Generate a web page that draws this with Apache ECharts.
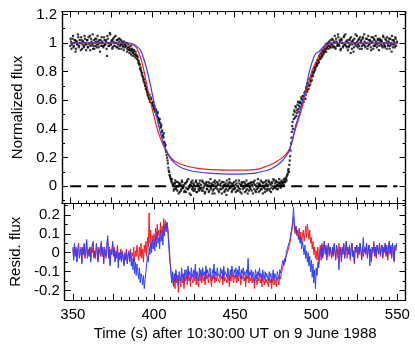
<!DOCTYPE html>
<html>
<head>
<meta charset="utf-8">
<script src="https://cdn.jsdelivr.net/npm/echarts@6/dist/echarts.min.js"></script>
<style>html,body{margin:0;padding:0;background:#fff}#main{width:415px;height:345px}</style>
</head>
<body>
<div id="main"></div>
<script>
// sampling of the photometry: first time and step (s)
var t0 = 350, dt = 0.5;

// normalized flux, one value per 0.5 s from 350 s
var flux = [
  0.98,1.01,0.99,1.03,0.97,1.00,1.02,0.96,1.01,0.99,1.04,0.98,1.00,0.95,1.02,0.99,1.01,0.97,1.03,1.00,
  0.99,1.02,0.97,1.00,1.05,0.98,1.01,0.99,0.96,1.02,1.00,0.98,1.03,0.99,1.01,0.97,1.00,1.02,0.98,1.01,
  1.00,0.98,1.02,0.99,1.01,0.91,1.03,0.98,1.00,1.06,0.99,1.02,0.97,1.01,1.04,0.98,1.00,1.02,0.97,1.03,
  1.01,0.98,1.02,0.99,1.00,0.97,1.01,0.99,0.98,1.00,0.96,0.99,0.97,0.95,0.98,0.94,0.96,0.93,0.95,0.92,
  0.94,0.91,0.91,0.88,0.87,0.85,0.83,0.80,0.79,0.76,0.75,0.72,0.71,0.69,0.66,0.65,0.62,0.64,0.60,0.61,
  0.58,0.57,0.54,0.56,0.52,0.53,0.49,0.51,0.47,0.45,0.44,0.41,0.38,0.36,0.34,0.31,0.28,0.25,0.22,0.18,
  0.13,0.10,0.07,0.05,0.03,0.02,0.01,-0.02,0.02,-0.01,0.03,-0.03,0.00,0.02,-0.04,0.01,-0.02,0.03,-0.01,0.00,
  -0.03,0.02,-0.01,0.04,-0.02,0.00,-0.05,0.01,0.03,-0.02,-0.01,0.02,-0.03,0.00,0.04,-0.04,0.01,-0.02,0.02,-0.01,
  0.01,-0.03,0.03,-0.01,0.00,-0.04,0.02,-0.02,0.01,0.03,-0.03,0.00,-0.01,0.02,-0.05,0.01,-0.02,0.04,-0.01,0.00,
  -0.02,0.02,-0.04,0.01,0.00,-0.02,0.03,-0.01,0.01,-0.03,0.02,-0.06,0.00,0.01,-0.02,0.03,-0.01,0.00,-0.03,0.02,
  0.00,-0.02,0.01,0.04,-0.03,0.00,-0.01,0.02,-0.04,0.01,0.03,-0.02,0.00,-0.01,0.02,-0.03,0.01,-0.05,0.02,0.00,
  -0.01,0.02,-0.03,0.00,0.03,-0.02,0.01,-0.04,0.00,0.02,-0.01,0.01,-0.03,0.04,-0.02,0.00,0.02,-0.01,-0.04,0.01,
  0.02,-0.02,0.00,0.03,-0.03,0.01,-0.01,0.02,-0.02,0.04,0.00,-0.01,0.03,0.01,-0.02,0.02,0.00,0.03,0.01,0.02,
  0.03,0.01,0.04,0.03,0.05,0.07,0.09,0.12,0.15,0.21,0.30,0.38,0.45,0.50,0.53,0.48,0.55,0.51,0.57,0.54,
  0.56,0.59,0.58,0.61,0.60,0.63,0.62,0.66,0.64,0.68,0.67,0.71,0.70,0.74,0.73,0.76,0.78,0.77,0.80,0.82,
  0.83,0.86,0.85,0.88,0.87,0.90,0.89,0.92,0.91,0.94,0.93,0.95,0.96,0.94,0.97,0.99,0.96,0.98,1.00,0.97,
  0.99,1.02,0.98,1.01,0.97,1.03,1.00,0.99,1.04,0.98,1.01,0.96,1.02,1.00,0.98,1.05,0.99,1.01,0.97,1.02,
  1.00,0.98,1.03,0.93,1.01,0.99,1.02,0.97,1.00,1.06,0.98,1.01,0.99,1.03,0.96,1.00,1.02,0.98,1.04,0.99,
  1.01,0.97,1.00,1.03,0.98,1.02,0.99,1.01,0.95,1.00,1.04,0.98,1.02,0.99,1.01,0.97,1.03,1.00,0.98,1.02,
  0.99,1.01,0.97,1.04,1.00,0.98,1.02,0.96,1.01,0.99,1.03,0.98,1.00,0.94,1.02,0.99,1.01,0.97,1.03,1.00
];
// the interleaved readings, one per 0.5 s from 350.25 s
var fluxB = [
  1.03,0.96,1.00,1.05,0.98,1.02,0.94,1.01,0.99,1.06,0.97,1.02,1.00,1.04,0.96,1.01,0.98,1.05,0.99,0.95,
  1.02,0.97,1.04,0.99,0.95,1.03,1.00,1.06,0.98,0.96,1.03,1.01,0.97,1.05,0.99,1.02,0.94,1.00,1.04,0.98,
  0.97,1.04,0.99,1.02,0.96,1.05,1.00,0.98,1.07,0.99,1.01,0.96,1.03,0.98,1.00,1.05,0.97,1.02,0.99,0.96,
  1.03,0.99,0.96,1.01,0.98,0.95,0.99,0.97,1.00,0.94,0.97,0.95,0.93,0.96,0.92,0.95,0.91,0.94,0.92,0.90,
  0.92,0.89,0.90,0.86,0.85,0.82,0.81,0.78,0.77,0.74,0.73,0.70,0.68,0.67,0.64,0.63,0.61,0.59,0.62,0.58,
  0.56,0.59,0.55,0.53,0.54,0.50,0.52,0.48,0.46,0.47,0.42,0.43,0.39,0.35,0.37,0.30,0.29,0.24,0.20,0.16,
  0.11,0.08,0.06,0.04,0.05,0.01,-0.03,0.02,0.04,-0.02,0.00,0.03,-0.05,0.01,0.02,-0.03,0.04,-0.01,0.01,-0.04,
  0.02,-0.04,0.03,-0.02,0.05,-0.01,0.01,-0.06,0.02,0.04,-0.03,0.01,-0.02,0.03,-0.04,0.02,0.00,-0.03,0.04,-0.02,
  -0.01,0.04,-0.03,0.02,-0.05,0.01,0.03,-0.02,0.00,-0.04,0.02,0.05,-0.02,0.01,-0.03,0.03,-0.05,0.02,0.00,0.03,
  0.01,-0.03,0.04,-0.02,0.02,-0.05,0.00,0.03,-0.04,0.01,-0.02,0.04,-0.03,0.02,0.05,-0.01,0.02,-0.04,0.01,-0.02,
  0.03,-0.01,-0.04,0.02,0.00,-0.03,0.04,-0.02,0.01,-0.05,0.02,0.00,0.03,-0.04,0.01,0.04,-0.02,0.01,-0.03,0.02,
  -0.02,0.03,0.01,-0.05,0.02,0.04,-0.03,0.00,-0.02,0.05,-0.04,0.02,0.01,-0.02,0.03,-0.05,0.00,0.03,-0.02,0.04,
  -0.03,0.01,0.04,-0.02,0.02,-0.04,0.03,0.00,0.05,-0.01,0.02,0.04,-0.02,0.03,0.01,0.05,0.02,-0.01,0.04,0.03,
  0.02,0.05,0.03,0.06,0.04,0.08,0.11,0.10,0.18,0.25,0.34,0.42,0.40,0.47,0.52,0.56,0.49,0.53,0.59,0.52,
  0.58,0.55,0.62,0.57,0.63,0.59,0.65,0.61,0.69,0.66,0.72,0.68,0.75,0.71,0.77,0.74,0.80,0.79,0.83,0.81,
  0.85,0.84,0.88,0.86,0.91,0.89,0.93,0.90,0.95,0.92,0.97,0.94,0.99,0.96,1.00,0.98,1.01,0.97,1.02,0.99,
  1.03,0.97,1.00,1.05,0.96,1.01,0.98,1.06,0.99,1.02,0.95,1.03,1.00,0.97,1.04,0.99,1.06,0.98,1.01,0.95,
  0.97,1.02,0.99,1.04,0.96,1.01,0.94,1.03,0.99,1.00,1.05,0.97,1.02,0.98,1.04,1.01,0.96,1.03,0.99,1.06,
  0.98,1.03,1.00,0.96,1.05,0.99,1.02,0.97,1.04,1.01,0.96,1.03,0.98,1.05,1.00,0.99,1.02,0.95,1.03,1.01,
  1.02,0.98,1.05,0.99,0.97,1.03,1.00,1.04,0.98,1.01,0.96,1.03,0.99,1.05,0.97,1.02,0.99,1.04,0.98,1.01
];

// model light curves (time, flux)
var redT = [350,380,386,390,392,394,395,397,399,401,403,405,407,409,412,415,420,428,440,455,465,470,475,479,482,484,486,488,490,492,494,496,498,500,502,504,506,508,511,550];
var redF = [1.0,1.0,0.995,0.975,0.93,0.86,0.81,0.70,0.60,0.50,0.41,0.34,0.285,0.24,0.195,0.168,0.145,0.125,0.115,0.113,0.12,0.14,0.165,0.195,0.225,0.26,0.33,0.41,0.48,0.56,0.65,0.73,0.81,0.86,0.91,0.95,0.975,0.99,1.0,1.0];
var blueT = [350,386,389,391,393,395,397,399,401,403,405,407,409,411,414,418,425,435,450,462,470,475,479,482,484,486,488,490,492,494,496,498,500,502,504,506,508,550];
var blueF = [1.0,1.0,0.99,0.975,0.95,0.89,0.81,0.71,0.60,0.48,0.38,0.30,0.245,0.20,0.16,0.13,0.105,0.092,0.085,0.09,0.11,0.135,0.17,0.21,0.25,0.33,0.43,0.50,0.59,0.68,0.79,0.87,0.925,0.94,0.965,0.99,1.0,1.0];

// residuals, one value per 0.5 s from 350 s
var residRed = [
  0.02,-0.03,0.04,-0.01,0.03,-0.04,0.01,0.05,-0.02,0.00,0.03,-0.05,0.02,-0.01,0.04,-0.03,0.01,0.06,-0.02,0.02,
  -0.01,0.03,-0.04,0.02,0.00,0.05,-0.03,0.01,-0.02,0.04,0.01,-0.04,0.03,0.00,-0.02,0.06,-0.01,0.02,-0.05,0.03,
  0.01,-0.03,0.04,0.07,-0.02,0.03,-0.06,0.02,0.00,0.05,-0.01,0.03,-0.04,0.01,-0.02,0.04,-0.05,0.00,-0.03,0.02,
  -0.04,0.01,-0.02,-0.06,0.00,-0.03,0.02,-0.05,-0.01,0.01,-0.03,0.02,-0.04,0.00,-0.02,0.03,-0.05,0.01,-0.02,0.04,
  0.00,-0.04,0.03,-0.02,0.05,-0.03,0.02,-0.05,0.04,0.00,0.06,-0.02,0.08,0.03,0.21,0.05,0.12,0.02,0.09,0.06,
  0.10,0.04,0.13,0.07,0.15,0.09,0.12,0.06,0.16,0.10,0.14,0.08,0.18,0.12,0.17,0.14,0.16,0.13,0.08,0.02,
  -0.05,-0.10,-0.14,-0.12,-0.17,-0.13,-0.19,-0.11,-0.16,-0.14,-0.21,-0.12,-0.15,-0.18,-0.11,-0.16,-0.13,-0.19,-0.12,-0.15,
  -0.12,-0.17,-0.10,-0.15,-0.13,-0.18,-0.11,-0.14,-0.16,-0.12,-0.15,-0.10,-0.17,-0.13,-0.14,-0.18,-0.11,-0.15,-0.12,-0.16,
  -0.11,-0.15,-0.13,-0.17,-0.10,-0.14,-0.12,-0.16,-0.13,-0.11,-0.15,-0.18,-0.12,-0.14,-0.10,-0.16,-0.13,-0.15,-0.11,-0.14,
  -0.13,-0.16,-0.11,-0.14,-0.12,-0.17,-0.10,-0.15,-0.13,-0.12,-0.16,-0.11,-0.14,-0.18,-0.12,-0.15,-0.10,-0.13,-0.16,-0.12,
  -0.14,-0.11,-0.16,-0.12,-0.15,-0.10,-0.13,-0.17,-0.12,-0.14,-0.11,-0.15,-0.13,-0.18,-0.12,-0.14,-0.10,-0.16,-0.13,-0.15,
  -0.12,-0.16,-0.13,-0.15,-0.19,-0.12,-0.14,-0.17,-0.13,-0.15,-0.11,-0.16,-0.14,-0.18,-0.12,-0.15,-0.17,-0.13,-0.16,-0.14,
  -0.15,-0.18,-0.13,-0.16,-0.14,-0.19,-0.15,-0.12,-0.17,-0.14,-0.16,-0.18,-0.13,-0.15,-0.17,-0.12,-0.14,-0.11,-0.09,-0.07,
  -0.08,-0.05,-0.06,-0.02,-0.03,0.01,0.00,0.04,0.06,0.09,0.12,0.15,0.19,0.13,0.10,0.14,0.09,0.12,0.08,0.13,
  0.07,0.11,0.05,0.09,0.12,0.06,0.10,0.14,0.08,0.15,0.11,0.07,0.12,0.05,0.08,0.02,0.06,-0.01,0.03,-0.03,
  0.01,-0.04,0.03,-0.06,0.00,0.04,-0.02,0.05,-0.03,0.02,0.06,-0.01,0.03,-0.04,0.01,0.05,-0.02,0.03,0.00,-0.03,
  0.02,-0.02,0.04,0.00,-0.04,0.03,0.01,-0.03,0.05,-0.01,0.02,-0.05,0.03,0.00,0.04,-0.02,0.01,0.06,-0.03,0.02,
  -0.01,0.03,-0.04,0.02,0.05,-0.02,0.01,-0.06,0.03,0.00,0.04,-0.03,0.02,-0.01,0.05,0.01,-0.04,0.03,-0.02,0.02,
  0.03,-0.01,0.05,-0.03,0.01,0.04,-0.02,0.02,-0.05,0.03,0.00,0.06,-0.02,0.02,-0.03,0.04,0.01,-0.01,0.05,-0.02,
  0.01,0.04,-0.03,0.02,0.00,0.05,-0.02,0.03,-0.04,0.02,0.06,-0.01,0.03,-0.03,0.04,0.00,-0.05,0.03,0.01,0.04
];
var residBlue = [
  0.03,-0.04,0.05,-0.02,0.02,-0.05,0.01,0.04,-0.03,0.00,0.02,-0.06,0.03,-0.01,0.05,-0.02,0.00,0.07,-0.03,0.01,
  -0.02,0.03,-0.05,0.02,0.01,0.06,-0.02,0.00,-0.03,0.05,0.01,-0.05,0.02,0.00,-0.01,0.05,-0.02,0.03,-0.06,0.02,
  0.00,-0.02,0.05,0.09,-0.03,0.02,-0.07,0.01,-0.01,0.06,-0.02,0.02,-0.05,0.00,-0.03,0.03,-0.08,0.00,-0.04,0.01,
  -0.05,0.00,-0.03,-0.07,-0.01,-0.04,0.01,-0.06,-0.02,0.00,-0.05,0.01,-0.07,-0.03,-0.09,-0.02,-0.11,-0.05,-0.12,-0.06,
  -0.10,-0.14,-0.08,-0.16,-0.11,-0.13,-0.17,-0.12,-0.19,-0.14,-0.10,-0.06,-0.02,-0.05,0.03,-0.01,0.05,0.00,0.07,0.02,
  0.06,0.01,0.09,0.03,0.11,0.05,0.08,0.02,0.12,0.06,0.10,0.04,0.14,0.09,0.15,0.11,0.16,0.12,0.05,-0.02,
  -0.06,-0.12,-0.16,-0.10,-0.18,-0.11,-0.15,-0.09,-0.14,-0.12,-0.17,-0.10,-0.13,-0.15,-0.08,-0.13,-0.11,-0.16,-0.09,-0.12,
  -0.09,-0.14,-0.07,-0.12,-0.10,-0.15,-0.08,-0.11,-0.13,-0.09,-0.12,-0.06,-0.14,-0.10,-0.11,-0.15,-0.08,-0.12,-0.09,-0.13,
  -0.08,-0.12,-0.10,-0.14,-0.07,-0.11,-0.09,-0.13,-0.10,-0.08,-0.12,-0.15,-0.09,-0.11,-0.06,-0.13,-0.10,-0.12,-0.08,-0.11,
  -0.10,-0.13,-0.08,-0.11,-0.09,-0.14,-0.07,-0.12,-0.10,-0.09,-0.13,-0.08,-0.11,-0.15,-0.09,-0.12,-0.07,-0.10,-0.13,-0.09,
  -0.11,-0.08,-0.13,-0.09,-0.12,-0.07,-0.10,-0.14,-0.09,-0.11,-0.08,-0.12,-0.10,-0.15,-0.09,-0.11,-0.03,-0.13,-0.10,-0.12,
  -0.09,-0.13,-0.10,-0.12,-0.16,-0.09,-0.11,-0.14,-0.10,-0.12,-0.08,-0.13,-0.11,-0.15,-0.09,-0.12,-0.14,-0.10,-0.13,-0.11,
  -0.12,-0.15,-0.10,-0.13,-0.11,-0.16,-0.12,-0.09,-0.14,-0.11,-0.13,-0.15,-0.10,-0.12,-0.14,-0.09,-0.11,-0.08,-0.06,-0.04,
  -0.07,-0.03,-0.05,0.00,-0.01,0.03,0.02,0.06,0.08,0.11,0.13,0.17,0.24,0.15,0.12,0.14,0.10,0.12,0.07,0.09,
  0.05,0.08,0.02,0.06,0.03,-0.01,0.04,-0.03,0.01,-0.05,0.00,-0.07,-0.02,-0.10,-0.04,-0.13,-0.06,-0.16,-0.09,-0.19,
  -0.08,-0.12,-0.05,-0.08,-0.02,0.02,-0.04,0.04,-0.02,0.03,0.06,0.00,0.04,-0.03,0.02,0.05,-0.01,0.03,0.01,-0.02,
  0.03,-0.01,0.05,0.01,-0.03,0.04,0.02,-0.02,-0.09,0.00,0.03,-0.04,0.02,-0.01,0.05,-0.03,0.00,0.06,0.01,0.03,
  -0.01,0.04,-0.03,0.02,0.05,-0.02,0.01,-0.05,0.03,0.01,0.04,-0.02,0.03,0.00,0.05,0.01,-0.03,0.02,0.08,0.00,
  0.03,0.00,0.05,-0.02,0.01,0.04,-0.07,0.02,-0.04,0.03,0.01,0.05,-0.01,0.03,-0.02,0.04,0.02,0.00,0.05,-0.01,
  0.02,0.04,-0.02,0.03,0.01,0.05,-0.01,0.04,-0.03,0.02,0.06,0.00,0.04,-0.02,0.05,0.01,-0.04,0.04,0.02,0.05
];

// zero reference line ends
var zeroT = [350, 550];

// ticks and labels
var xLabels = [350,400,450,500,550];
var xMajor = [350,375,400,425,450,475,500,525,550];
var xMinor = [345,350,355,360,365,370,375,380,385,390,395,400,405,410,415,420,425,430,435,440,445,450,455,460,465,470,475,480,485,490,495,500,505,510,515,520,525,530,535,540,545,550,555];
var yTopLabels = [0,0.2,0.4,0.6,0.8,1,1.2];
var yTopMinor = [-0.1,0,0.1,0.2,0.3,0.4,0.5,0.6,0.7,0.8,0.9,1,1.1,1.2];
var yBotLabels = [-0.2,-0.1,0,0.1,0.2];
var yBotMinor = [-0.2,-0.15,-0.1,-0.05,0,0.05,0.1,0.15,0.2,0.25];

var FONT = 'Liberation Sans';
var FS = 15;
function pairs(vals, start) {
  return vals.map(function (v, i) { return [start + i * dt, v]; });
}
function zip(ts, vs) {
  return ts.map(function (t, i) { return [t, vs[i]]; });
}

function axis(grid, pos, min, max, ticks, len, labels, extra) {
  var a = {
    type: 'value', gridIndex: grid, position: pos, min: min, max: max,
    axisLine: { show: true, onZero: false, lineStyle: { color: '#000', width: 1.2 } },
    axisTick: { show: true, inside: true, length: len, customValues: ticks, lineStyle: { color: '#000', width: 1 } },
    axisLabel: { show: !!labels, customValues: labels || ticks, color: '#000', fontSize: FS, fontFamily: FONT,
      margin: (pos === 'left' ? 5 : 7) },
    splitLine: { show: false }
  };
  if (extra) for (var k in extra) a[k] = extra[k];
  return a;
}
function title(text, gap) {
  return { name: text, nameLocation: 'middle', nameGap: gap,
    nameTextStyle: { color: '#000', fontSize: FS, fontFamily: FONT } };
}

var xAxes = [], yAxes = [];
[0, 1].forEach(function (g) {
  xAxes.push(axis(g, 'bottom', 345, 555, xMajor, 6, g === 1 ? xLabels : null,
    g === 1 ? title('Time (s) after 10:30:00 UT on 9 June 1988', 26) : null));
  xAxes.push(axis(g, 'top', 345, 555, xMajor, 6, null));
  xAxes.push(axis(g, 'bottom', 345, 555, xMinor, 3, null));
  xAxes.push(axis(g, 'top', 345, 555, xMinor, 3, null));
});
// top panel y
yAxes.push(axis(0, 'left', -0.12, 1.22, yTopLabels, 6, yTopLabels, title('Normalized flux', 26)));
yAxes.push(axis(0, 'right', -0.12, 1.22, yTopLabels, 6, null));
yAxes.push(axis(0, 'left', -0.12, 1.22, yTopMinor, 3, null));
yAxes.push(axis(0, 'right', -0.12, 1.22, yTopMinor, 3, null));
// bottom panel y
yAxes.push(axis(1, 'left', -0.25, 0.26, yBotLabels, 6, yBotLabels, title('Resid. flux', 38)));
yAxes.push(axis(1, 'right', -0.25, 0.26, yBotLabels, 6, null));
yAxes.push(axis(1, 'left', -0.25, 0.26, yBotMinor, 3, null));
yAxes.push(axis(1, 'right', -0.25, 0.26, yBotMinor, 3, null));

var RED = '#ff1a1a', BLUE = '#2f3fff';

var option = {
  animation: false,
  backgroundColor: '#fff',
  grid: [
    { left: 62, right: 9.5, top: 11.5, height: 192 },
    { left: 62, right: 9.5, top: 203.5, height: 96.5 }
  ],
  xAxis: xAxes,
  yAxis: yAxes,
  series: [
    { type: 'line', xAxisIndex: 0, yAxisIndex: 0, data: zip(zeroT, [0, 0]), symbol: 'none',
      lineStyle: { color: '#000', width: 2, type: [11, 6] }, z: 1 },
    { type: 'scatter', xAxisIndex: 0, yAxisIndex: 0, data: pairs(flux, t0), symbol: 'rect', symbolSize: 2.2,
      itemStyle: { color: '#000' }, z: 2 },
    { type: 'scatter', xAxisIndex: 0, yAxisIndex: 0, data: pairs(fluxB, t0 + 0.25), symbol: 'rect', symbolSize: 2.2,
      itemStyle: { color: '#000' }, z: 2 },
    { type: 'line', xAxisIndex: 0, yAxisIndex: 0, data: zip(redT, redF), symbol: 'none', smooth: 0.35,
      lineStyle: { color: RED, width: 1.2 }, z: 3 },
    { type: 'line', xAxisIndex: 0, yAxisIndex: 0, data: zip(blueT, blueF), symbol: 'none', smooth: 0.35,
      lineStyle: { color: BLUE, width: 1.2 }, z: 4 },
    { type: 'line', xAxisIndex: 4, yAxisIndex: 4, data: pairs(residRed, t0), symbol: 'none',
      lineStyle: { color: RED, width: 1 }, z: 3 },
    { type: 'line', xAxisIndex: 4, yAxisIndex: 4, data: pairs(residBlue, t0), symbol: 'none',
      lineStyle: { color: BLUE, width: 1 }, z: 4 }
  ]
};

var chart = echarts.init(document.getElementById('main'), null, { renderer: 'canvas' });
chart.setOption(option);
</script>
</body>
</html>
